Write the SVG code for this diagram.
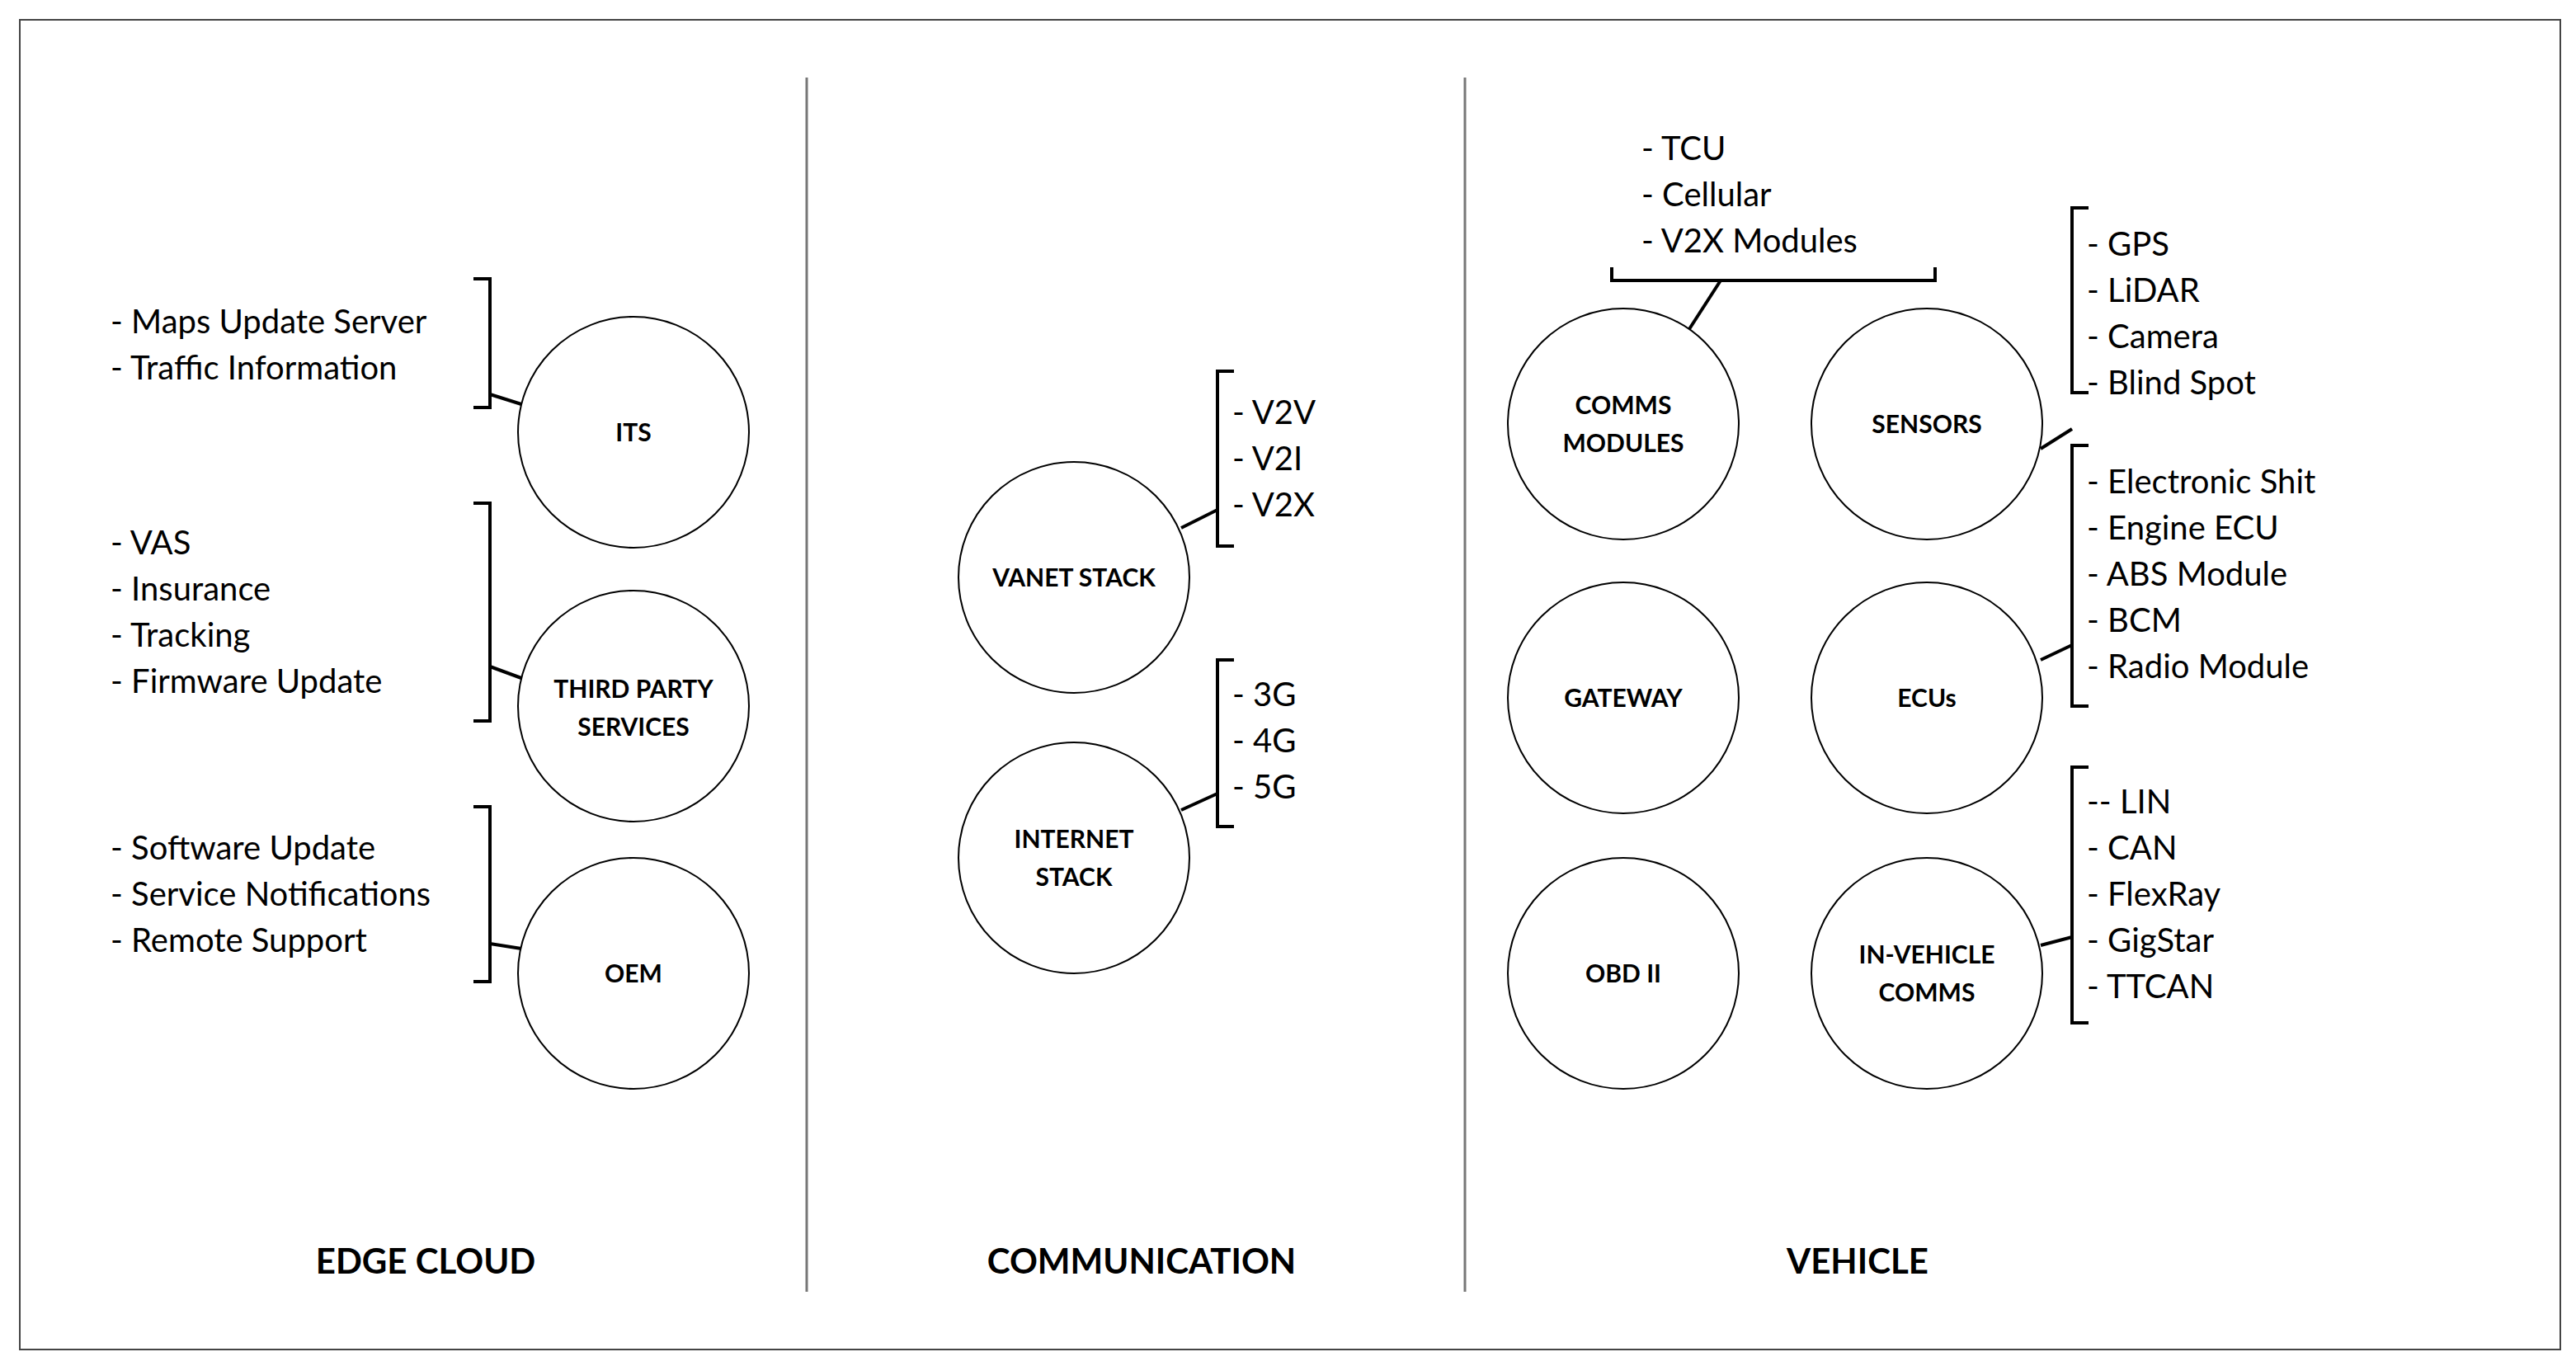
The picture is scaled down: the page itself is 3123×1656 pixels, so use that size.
<svg xmlns="http://www.w3.org/2000/svg" width="3123" height="1656" viewBox="0 0 3123 1656">
<style>
.c{fill:#fff;stroke:#000;stroke-width:2}
.b{fill:none;stroke:#000;stroke-width:4}
.t{font-family:Lato,"Liberation Sans",sans-serif;font-size:40px;fill:#000}
.n{font-family:Lato,"Liberation Sans",sans-serif;font-size:30px;font-weight:bold;fill:#000;text-anchor:middle}
.h{font-family:Lato,"Liberation Sans",sans-serif;font-size:42px;font-weight:bold;fill:#000;text-anchor:middle}
</style>
<rect x="0" y="0" width="3123" height="1656" fill="#fff"/>
<rect x="24" y="24" width="3080" height="1612" fill="none" stroke="#444" stroke-width="2"/>
<line x1="978" y1="94" x2="978" y2="1566" stroke="#777" stroke-width="3"/>
<line x1="1776" y1="94" x2="1776" y2="1566" stroke="#777" stroke-width="3"/>
<text class="h" x="516" y="1544">EDGE CLOUD</text>
<text class="h" x="1384" y="1544">COMMUNICATION</text>
<text class="h" x="2252" y="1544">VEHICLE</text>
<g id="connectors">
<path class="b" d="M574 338H594V494H574"/><line class="b" x1="594" y1="478" x2="632" y2="490"/>
<path class="b" d="M574 610H594V874H574"/><line class="b" x1="594" y1="808" x2="632" y2="822"/>
<path class="b" d="M574 978H594V1190H574"/><line class="b" x1="594" y1="1144" x2="632" y2="1150"/>
<path class="b" d="M1496 450H1476V662H1496"/><line class="b" x1="1432" y1="640" x2="1476" y2="618"/>
<path class="b" d="M1496 800H1476V1002H1496"/><line class="b" x1="1432" y1="982" x2="1476" y2="962"/>
<path class="b" d="M1954 324V340H2346V324"/><line class="b" x1="2086" y1="340" x2="2046" y2="402"/>
<path class="b" d="M2532 252H2512V476H2532"/><line class="b" x1="2474" y1="544" x2="2512" y2="520"/>
<path class="b" d="M2532 540H2512V856H2532"/><line class="b" x1="2474" y1="800" x2="2512" y2="782"/>
<path class="b" d="M2532 930H2512V1240H2532"/><line class="b" x1="2474" y1="1146" x2="2512" y2="1136"/>
</g>
<g id="its"><circle class="c" cx="768" cy="524" r="140"/><text class="n" x="768" y="535">ITS</text>
<text class="t" x="134" y="404">- Maps Update Server</text><text class="t" x="134" y="460">- Traffic Information</text></g>
<g id="third"><circle class="c" cx="768" cy="856" r="140"/><text class="n" x="768" y="846">THIRD PARTY</text><text class="n" x="768" y="892">SERVICES</text>
<text class="t" x="134" y="672">- VAS</text><text class="t" x="134" y="728">- Insurance</text><text class="t" x="134" y="784">- Tracking</text><text class="t" x="134" y="840">- Firmware Update</text></g>
<g id="oem"><circle class="c" cx="768" cy="1180" r="140"/><text class="n" x="768" y="1191">OEM</text>
<text class="t" x="134" y="1042">- Software Update</text><text class="t" x="134" y="1098">- Service Notifications</text><text class="t" x="134" y="1154">- Remote Support</text></g>
<g id="vanet"><circle class="c" cx="1302" cy="700" r="140"/><text class="n" x="1302" y="711">VANET STACK</text>
<text class="t" x="1494" y="514">- V2V</text><text class="t" x="1494" y="570">- V2I</text><text class="t" x="1494" y="626">- V2X</text></g>
<g id="internet"><circle class="c" cx="1302" cy="1040" r="140"/><text class="n" x="1302" y="1028">INTERNET</text><text class="n" x="1302" y="1074">STACK</text>
<text class="t" x="1494" y="856">- 3G</text><text class="t" x="1494" y="912">- 4G</text><text class="t" x="1494" y="968">- 5G</text></g>
<g id="comms"><circle class="c" cx="1968" cy="514" r="140"/><text class="n" x="1968" y="502">COMMS</text><text class="n" x="1968" y="548">MODULES</text>
<text class="t" x="1990" y="194">- TCU</text><text class="t" x="1990" y="250">- Cellular</text><text class="t" x="1990" y="306">- V2X Modules</text></g>
<g id="gateway"><circle class="c" cx="1968" cy="846" r="140"/><text class="n" x="1968" y="857">GATEWAY</text></g>
<g id="obd"><circle class="c" cx="1968" cy="1180" r="140"/><text class="n" x="1968" y="1191">OBD II</text></g>
<g id="sensors"><circle class="c" cx="2336" cy="514" r="140"/><text class="n" x="2336" y="525">SENSORS</text>
<text class="t" x="2530" y="310">- GPS</text><text class="t" x="2530" y="366">- LiDAR</text><text class="t" x="2530" y="422">- Camera</text><text class="t" x="2530" y="478">- Blind Spot</text></g>
<g id="ecus"><circle class="c" cx="2336" cy="846" r="140"/><text class="n" x="2336" y="857">ECUs</text>
<text class="t" x="2530" y="598">- Electronic Shit</text><text class="t" x="2530" y="654">- Engine ECU</text><text class="t" x="2530" y="710">- ABS Module</text><text class="t" x="2530" y="766">- BCM</text><text class="t" x="2530" y="822">- Radio Module</text></g>
<g id="invehicle"><circle class="c" cx="2336" cy="1180" r="140"/><text class="n" x="2336" y="1168">IN-VEHICLE</text><text class="n" x="2336" y="1214">COMMS</text>
<text class="t" x="2530" y="986">-- LIN</text><text class="t" x="2530" y="1042">- CAN</text><text class="t" x="2530" y="1098">- FlexRay</text><text class="t" x="2530" y="1154">- GigStar</text><text class="t" x="2530" y="1210">- TTCAN</text></g>
</svg>
